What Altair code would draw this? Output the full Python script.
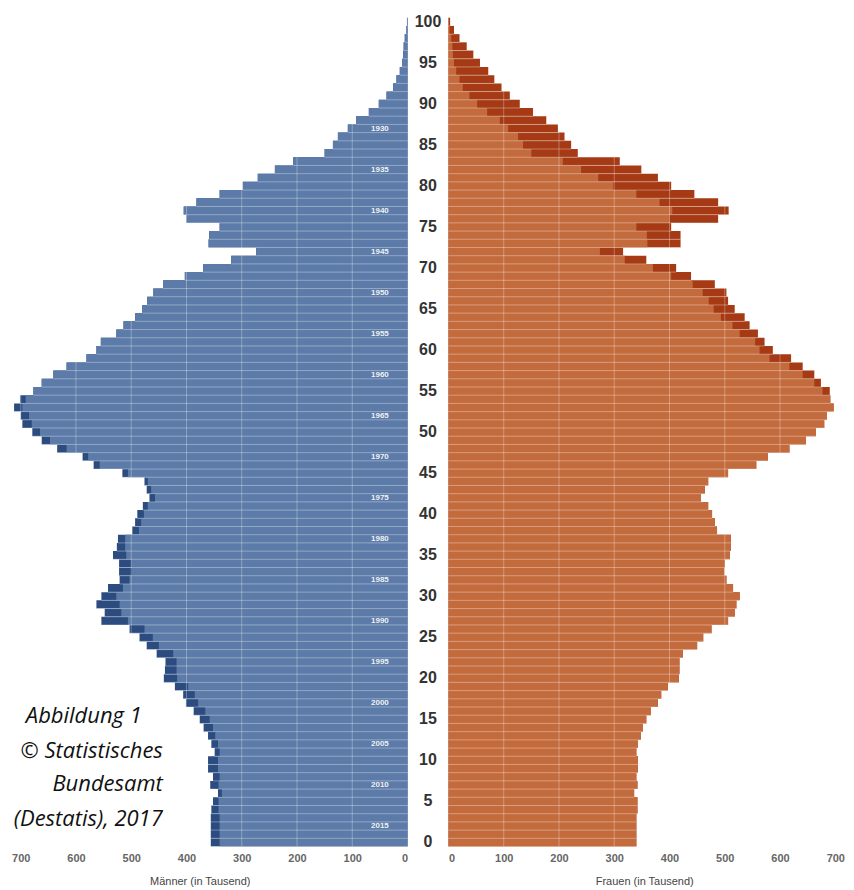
import altair as alt
import pandas as pd

# ---------------- data (in thousands) ----------------
ages = list(range(0, 101))
male = [356, 356, 356, 356, 355, 352, 343, 357, 352, 361,
        361, 349, 355, 361, 369, 376, 387, 401, 406, 421,
        441, 439, 438, 454, 472, 485, 503, 554, 548, 563,
        554, 542, 521, 522, 522, 533, 526, 524, 498, 493,
        489, 479, 467, 472, 476, 516, 568, 588, 634, 662,
        679, 697, 700, 712, 701, 677, 662, 641, 617, 581,
        563, 555, 527, 514, 493, 480, 471, 460, 442, 403,
        370, 319, 274, 360, 359, 340, 400, 405, 382, 340,
        298, 271, 240, 207, 150, 135, 126, 108, 93, 70,
        52, 38, 26, 20, 14, 10, 8, 7, 5, 2,
        1]
female = [340, 340, 340, 340, 342, 342, 336, 342, 340, 343,
          343, 340, 343, 348, 352, 358, 366, 379, 385, 397,
          417, 418, 418, 424, 450, 461, 476, 506, 518, 521,
          527, 515, 503, 499, 500, 509, 511, 511, 486, 482,
          477, 470, 457, 464, 470, 506, 557, 578, 617, 647,
          665, 680, 685, 697, 691, 690, 674, 662, 641, 620,
          587, 572, 560, 545, 536, 518, 506, 503, 482, 439,
          412, 358, 316, 420, 420, 403, 488, 507, 488, 445,
          403, 379, 349, 310, 234, 222, 210, 198, 177, 153,
          129, 111, 96, 83, 72, 57, 45, 33, 20, 10,
          3]
age_ticks = list(range(0, 101, 5))
x_ticks = [0, 100, 200, 300, 400, 500, 600, 700]
grid_vals = [100, 200, 300, 400, 500, 600, 700]
birth_years = [1930, 1935, 1940, 1945, 1950, 1955, 1960, 1965, 1970,
               1975, 1980, 1985, 1990, 1995, 2000, 2005, 2010, 2015]
birth_year_ages = [87, 82, 77, 72, 67, 62, 57, 52, 47,
                   42, 37, 32, 27, 22, 17, 12, 7, 2]
note_lines = ["Abbildung 1", "© Statistisches", "Bundesamt", "(Destatis), 2017"]

# ---------------- derived table ----------------
df = pd.DataFrame({"age": ages, "male": male, "female": female})
df["common"] = df[["male", "female"]].min(axis=1)
df["zero"] = 0
df["lo"] = df["age"] - 0.5
df["hi"] = df["age"] + 0.5
years_df = pd.DataFrame({"year": [str(y) for y in birth_years],
                         "age": birth_year_ages, "pos": 50})
ticks_df = pd.DataFrame({"age": age_ticks, "label": [str(a) for a in age_ticks]})
grid_df = pd.DataFrame({"v": grid_vals})

BLUE = "#5c7ba8"
BLUE_DARK = "#2c4c80"
ORANGE = "#c46b3d"
ORANGE_DARK = "#a53a14"

PANEL_W = 400
H = 838
XMAX = 723
FONT = "Liberation Sans"

yscale = alt.Scale(domain=[-0.5, 101.5], nice=False, zero=False)


def side(field, title, dark, light, reverse, title_x, width):
    xs = alt.Scale(domain=[0, XMAX * width / PANEL_W], nice=False, reverse=reverse)
    axis = alt.Axis(values=x_ticks, ticks=False, domain=False, grid=False,
                    labelPadding=6, labelFontSize=11, labelColor="#666",
                    labelFont=FONT, labelFontWeight="bold",
                    titleFontSize=11, titleFont=FONT, titleFontWeight="normal",
                    titleColor="#444", titlePadding=12, titleX=title_x)
    full = alt.Chart(df).mark_rect(color=dark).encode(
        x=alt.X(f"{field}:Q", scale=xs, axis=axis, title=title),
        x2="zero:Q",
        y=alt.Y("lo:Q", scale=yscale, axis=None),
        y2="hi:Q",
    )
    base = alt.Chart(df).mark_rect(color=light).encode(
        x=alt.X("common:Q", scale=xs, axis=axis, title=title),
        x2="zero:Q",
        y=alt.Y("lo:Q", scale=yscale, axis=None),
        y2="hi:Q",
    )
    seps = alt.Chart(df).mark_rule(color="white", strokeOpacity=0.35, strokeWidth=1).encode(
        x=alt.X(f"{field}:Q", scale=xs, axis=axis, title=title),
        x2="zero:Q",
        y=alt.Y("lo:Q", scale=yscale, axis=None),
    )
    grid = alt.Chart(grid_df).mark_rule(color="white", strokeOpacity=0.3, strokeWidth=1).encode(
        x=alt.X("v:Q", scale=xs, axis=axis, title=title),
        y=alt.value(0),
        y2=alt.value(H),
    )
    return [full, base, seps, grid], xs, axis


m_layers, m_xs, m_axis = side("male", "Männer (in Tausend)", BLUE_DARK, BLUE, True, 192, PANEL_W)
f_layers, f_xs, f_axis = side("female", "Frauen (in Tausend)", ORANGE_DARK, ORANGE, False, 196, 398)

years = alt.Chart(years_df).mark_text(color="white", fontSize=8, font=FONT,
                                      fontWeight="bold", opacity=0.9).encode(
    x=alt.X("pos:Q", scale=m_xs, axis=m_axis, title="Männer (in Tausend)"),
    y=alt.Y("age:Q", scale=yscale, axis=None),
    text="year:N",
)

note_pos = [(134, 707), (155, 742), (155, 775), (155, 810)]
notes = []
for line, (px, py) in zip(note_lines, note_pos):
    notes.append(
        alt.Chart(df.head(1)).mark_text(text=line, align="right", baseline="middle",
                                        font="Open Sans", fontStyle="italic", fontSize=22,
                                        color="#111").encode(
            x=alt.value(px), y=alt.value(py))
    )

male_panel = alt.layer(*m_layers, years, *notes).properties(width=PANEL_W, height=H)
female_panel = alt.layer(*f_layers).properties(width=398, height=H)

center = alt.Chart(ticks_df).mark_text(fontSize=16, fontWeight="bold", font=FONT,
                                       color="#333").encode(
    x=alt.value(19.5),
    y=alt.Y("age:Q", scale=yscale, axis=None),
    text="label:N",
).properties(width=39, height=H)

chart = alt.hconcat(male_panel, center, female_panel, spacing=0).properties(
    padding=0
).configure_view(stroke=None)

chart.save("out.html", embed_options={"renderer": "svg", "actions": False})
